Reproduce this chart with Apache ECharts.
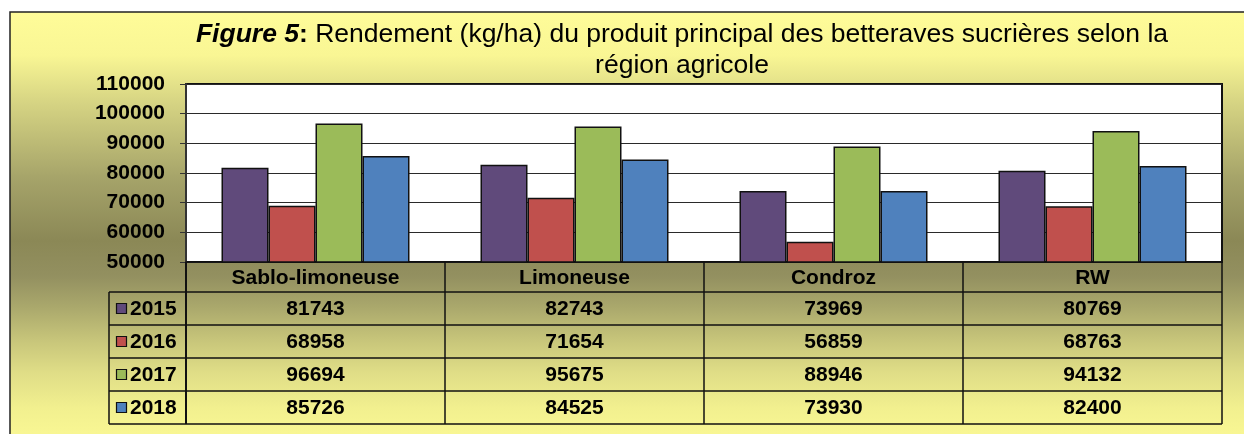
<!DOCTYPE html>
<html>
<head>
<meta charset="utf-8">
<script src="https://cdn.jsdelivr.net/npm/echarts@6.0.0/dist/echarts.min.js"></script>
<style>
  html, body { margin: 0; padding: 0; background: #fff; }
  #chart { width: 1244px; height: 434px; }
</style>
</head>
<body>
<div id="chart"></div>
<script>
// regions (categories) and yields per year, kg/ha
const regions = ["Sablo-limoneuse", "Limoneuse", "Condroz", "RW"];
const years = ["2015", "2016", "2017", "2018"];
const y2015 = [81743, 82743, 73969, 80769];
const y2016 = [68958, 71654, 56859, 68763];
const y2017 = [96694, 95675, 88946, 94132];
const y2018 = [85726, 84525, 73930, 82400];
const colors = ["#604a7b", "#c0504d", "#9bbb59", "#4f81bd"];

const seriesValues = [y2015, y2016, y2017, y2018];
const FONT = '"Liberation Sans", Arial, sans-serif';

const W = 1244;
const gridLeft = 186, gridRight = 22, gridTop = 84, gridBottom = 172;
const tableTop = 434 - gridBottom;
const headerH = 30, rowH = 33, labelLeft = 109;
const colW = (W - gridLeft - gridRight) / regions.length;
const tableRight = W - gridRight;
const tableBottom = tableTop + headerH + rowH * years.length;

const chart = echarts.init(document.getElementById("chart"));

// data table under the plot
const table = [];
const line = (x1, y1, x2, y2, w) => ({
  type: "line", z: 5, silent: true,
  shape: { x1, y1, x2, y2 },
  style: { stroke: "#111", lineWidth: w || 1.5 }
});
const txt = (text, x, y, align) => ({
  type: "text", z: 6, silent: true,
  style: {
    text, x, y, textAlign: align || "center", textVerticalAlign: "middle",
    font: "bold 21px " + FONT, fill: "#000"
  }
});

regions.forEach((r, i) => {
  const cx = gridLeft + colW * (i + 0.5);
  table.push(txt(r, cx, tableTop + headerH / 2 + 1));
  seriesValues.forEach((vals, j) => {
    table.push(txt(String(vals[i]), cx, tableTop + headerH + rowH * j + rowH / 2 + 1));
  });
});
for (let i = 0; i <= regions.length; i++) {
  const x = gridLeft + colW * i;
  table.push(line(x, tableTop, x, tableBottom, i === 0 ? 2 : 1.5));
}
for (let j = 0; j <= years.length; j++) {
  const y = tableTop + headerH + rowH * j;
  table.push(line(labelLeft, y, tableRight, y));
}
table.push(line(labelLeft, tableTop + headerH, labelLeft, tableBottom));
years.forEach((yr, j) => {
  const cy = tableTop + headerH + rowH * j + rowH / 2;
  table.push({
    type: "rect", z: 6, silent: true,
    shape: { x: 116.5, y: cy - 5, width: 10, height: 10 },
    style: { fill: colors[j], stroke: "#111", lineWidth: 1.2 }
  });
  table.push(txt(yr, 130, cy + 1, "left"));
});

const option = {
  animation: false,
  title: {
    text: "{fig|Figure 5}{b|:} Rendement (kg/ha) du produit principal des betteraves sucrières selon la\nrégion agricole",
    left: 677,
    top: 14,
    textAlign: "center",
    textStyle: {
      fontFamily: FONT, fontSize: 26.5, fontWeight: "normal", color: "#000", lineHeight: 31,
      rich: {
        fig: { fontFamily: FONT, fontSize: 26.5, fontWeight: "bold", fontStyle: "italic", color: "#000", lineHeight: 31 },
        b: { fontFamily: FONT, fontSize: 26.5, fontWeight: "bold", color: "#000", lineHeight: 31 }
      }
    }
  },
  graphic: [
    {
      type: "rect", z: -10, silent: true,
      shape: { x: 10, y: 12, width: 1250, height: 440 },
      style: {
        stroke: "#222", lineWidth: 1.5,
        fill: new echarts.graphic.LinearGradient(0, 0, 0, 1, [
          { offset: 0, color: "#fffc99" },
          { offset: 0.1, color: "#f9f694" },
          { offset: 0.2, color: "#d8d684" },
          { offset: 0.38, color: "#a5a369" },
          { offset: 0.52, color: "#8b8856" },
          { offset: 0.6, color: "#939060" },
          { offset: 0.67, color: "#aaa86c" },
          { offset: 0.75, color: "#c9c77b" },
          { offset: 0.82, color: "#e0de87" },
          { offset: 0.9, color: "#f2f08f" },
          { offset: 1, color: "#fdfb96" }
        ])
      }
    },
    ...table
  ],
  grid: {
    left: gridLeft, right: gridRight, top: gridTop, bottom: gridBottom,
    show: true, backgroundColor: "#fff", borderColor: "#111", borderWidth: 2
  },
  xAxis: {
    type: "category",
    data: regions,
    axisLabel: { show: false },
    axisTick: { show: false },
    axisLine: { lineStyle: { color: "#111", width: 1.5 } }
  },
  yAxis: {
    type: "value",
    min: 50000, max: 110000, interval: 10000,
    axisLine: { show: true, lineStyle: { color: "#333", width: 2 } },
    axisTick: { show: true, length: 6, lineStyle: { color: "#333", width: 1 } },
    axisLabel: {
      margin: 21, fontFamily: FONT, fontSize: 21, fontWeight: "bold", color: "#000",
      formatter: v => String(v)
    },
    splitLine: { lineStyle: { color: "#2a2a2a", width: 1 } }
  },
  series: years.map((yr, j) => ({
    name: yr,
    type: "bar",
    data: seriesValues[j],
    barWidth: 47,
    barGap: "0%",
    itemStyle: { color: colors[j], borderColor: "#111", borderWidth: 1.5 }
  }))
};

chart.setOption(option);
</script>
</body>
</html>
